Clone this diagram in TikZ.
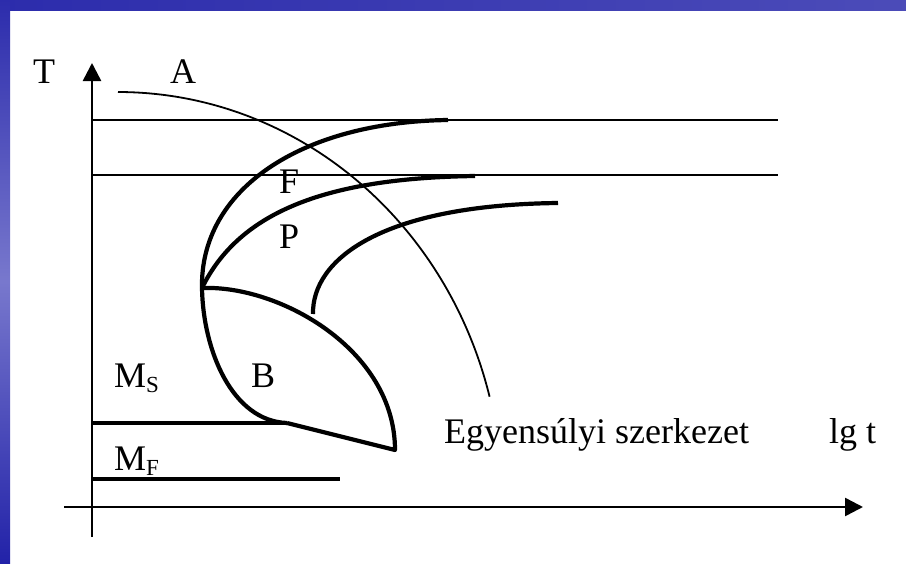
\documentclass[tikz,border=0pt]{standalone}
\usepackage{fontspec}
\setmainfont{Liberation Serif}
\usetikzlibrary{arrows.meta}
\definecolor{frameblue}{RGB}{44,44,172}
\definecolor{framelight}{RGB}{120,120,205}
\definecolor{framedark}{RGB}{34,34,168}
\begin{document}
\begin{tikzpicture}[x=1pt,y=-1pt,
  lbl/.style={font=\fontsize{36}{40}\selectfont, inner sep=0pt, anchor=base west},
  thincurve/.style={line width=1.8pt},
  thickcurve/.style={line width=4.2pt, line join=round},
  hline/.style={line width=2.6pt},
  mline/.style={line width=4.2pt},
  axisline/.style={line width=2.5pt, -{Triangle[length=18pt,width=18pt]}}]
\useasboundingbox (0,0) rectangle (906,563);
\fill[white] (0,0) rectangle (906,563);
\shade[left color=frameblue, right color=frameblue!85!white] (0,0) rectangle (906,10);
\shade[top color=frameblue, bottom color=framedark, middle color=framelight] (0,0) rectangle (10,563);

% axes
\coordinate (ybot) at (92,537);
\coordinate (ytop) at (92,63);
\coordinate (xleft) at (64,507);
\coordinate (xright) at (863,507);
\draw[axisline] (ybot) -- (ytop);
\draw[axisline] (xleft) -- (xright);

% horizontal temperature lines
\coordinate (h1a) at (92,120);
\coordinate (h1b) at (778,120);
\coordinate (h2a) at (92,175);
\coordinate (h2b) at (778,175);
\draw[hline] (h1a) -- (h1b);
\draw[hline] (h2a) -- (h2b);

% equilibrium curve (thin, elliptic arc)
\draw[thincurve] plot[domain=90:14.6, samples=80, variable=\t, smooth]
  ({118+384*cos(\t)}, {499.4-407.4*sin(\t)});

% key points
\coordinate (nose) at (202,288);
\coordinate (fend) at (448,120);
\coordinate (pend) at (475,176);
\coordinate (thirdstart) at (313,314);
\coordinate (thirdend) at (558,203);
\coordinate (bjoin) at (287,423);
\coordinate (btip) at (395,450);

% F curve and left boundary of B
\draw[thickcurve] (fend) .. controls (300,122) and (200,190) .. (nose)
  .. controls (203,350) and (232,421) .. (bjoin);
% P curve
\draw[thickcurve] (nose) .. controls (240,210) and (330,178) .. (pend);
% third curve
\draw[thickcurve] (thirdstart) .. controls (312,260) and (380,205) .. (thirdend);
% top boundary of B
\draw[thickcurve] (nose) .. controls (280,285) and (395,350) .. (btip) -- (bjoin);

% Ms and Mf lines
\coordinate (msa) at (92,423);
\coordinate (mfa) at (92,479);
\coordinate (mfb) at (340,479);
\draw[mline] (msa) -- (bjoin);
\draw[mline] (mfa) -- (mfb);

% labels
\node[lbl] (lT) at (33,83) {T};
\node[lbl] (lA) at (170,83) {A};
\node[lbl] (lF) at (279,193) {F};
\node[lbl] (lP) at (279,248) {P};
\node[lbl] (lB) at (251,387) {B};
\node[lbl] (lMs) at (114,387) {M\raisebox{-5pt}{\fontsize{23}{25}\selectfont S}};
\node[lbl] (lMf) at (114,470) {M\raisebox{-5pt}{\fontsize{23}{25}\selectfont F}};
\node[lbl] (lEq) at (444,443) {Egyensúlyi szerkezet};
\node[lbl] (lLg) at (829,443) {lg t};
\end{tikzpicture}
\end{document}
